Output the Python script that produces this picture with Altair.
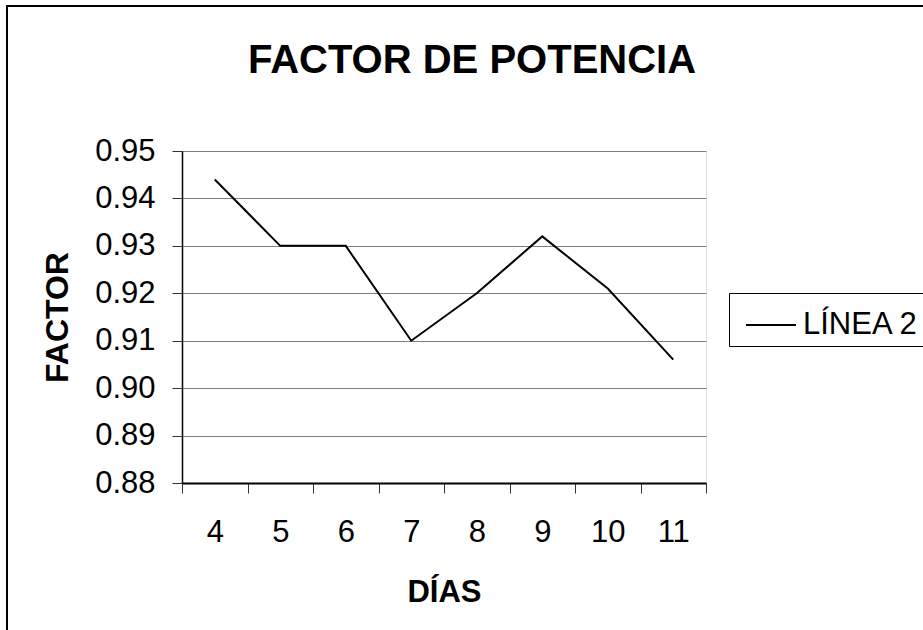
import altair as alt
import pandas as pd

# Power factor readings per day for line 2
dias = [4, 5, 6, 7, 8, 9, 10, 11]
factor = [0.944, 0.930, 0.930, 0.910, 0.920, 0.932, 0.921, 0.906]
serie = "LÍNEA 2"
y_ticks = [0.88, 0.89, 0.90, 0.91, 0.92, 0.93, 0.94, 0.95]

df = pd.DataFrame({"dia": dias, "factor": factor, "serie": [serie] * len(dias)})

FONT = "Liberation Sans"

# Outer chart-area frame
frame = (
    alt.Chart(pd.DataFrame({"k": [0]}))
    .mark_rect(fill=None, stroke="black", strokeWidth=2, clip=False)
    .encode(
        x=alt.value(-175), x2=alt.value(760),
        y=alt.value(-145), y2=alt.value(500),
    )
)

line = (
    alt.Chart(df)
    .mark_line(strokeWidth=2)
    .encode(
        x=alt.X(
            "dia:O",
            bandPosition=0.5,
            scale=alt.Scale(type="band", paddingInner=0, paddingOuter=0),
            axis=alt.Axis(
                title="DÍAS",
                labelAngle=0,
                tickBand="extent",
                tickSize=10,
                tickColor="#333333",
                domainColor="black",
                domainWidth=2,
                labelFontSize=31,
                labelFont=FONT,
                labelColor="black",
                labelPadding=24,
                titleFontSize=31,
                titleFont=FONT,
                titleFontWeight="bold",
                titleColor="black",
                titlePadding=30,
                grid=False,
            ),
        ),
        y=alt.Y(
            "factor:Q",
            scale=alt.Scale(domain=[0.88, 0.95], zero=False, nice=False),
            axis=alt.Axis(
                title="FACTOR",
                values=y_ticks,
                format=".2f",
                tickSize=10,
                tickColor="#333333",
                domainColor="black",
                domainWidth=1.5,
                grid=True,
                gridColor="#808080",
                gridWidth=1,
                labelFontSize=31,
                labelFont=FONT,
                labelColor="black",
                labelPadding=17,
                titleFontSize=32,
                titleFont=FONT,
                titleFontWeight="bold",
                titleColor="black",
                titlePadding=20,
            ),
        ),
        color=alt.Color(
            "serie:N",
            scale=alt.Scale(range=["black"]),
            legend=alt.Legend(
                title=None,
                orient="none",
                legendX=547,
                legendY=142,
                symbolType="stroke",
                symbolSize=2500,
                symbolStrokeWidth=2,
                symbolOffset=10,
                labelFontSize=31,
                labelFont=FONT,
                labelColor="black",
                labelOffset=6,
                padding=6,
                strokeColor="black",
            ),
        ),
    )
)

chart = (
    alt.layer(frame, line)
    .properties(
        width=524,
        height=332,
        padding={"left": 182, "top": 151, "right": 217, "bottom": 147},
        autosize=alt.AutoSizeParams(type="none"),
        title=alt.TitleParams(
            "FACTOR DE POTENCIA",
            font=FONT,
            fontSize=40,
            fontWeight="bold",
            color="black",
            anchor="middle",
            dx=28,
            offset=0,
            dy=76,
        ),
    )
    .configure_view(stroke="#808080", strokeWidth=1)
    .configure(background="white")
)

chart.save("out.html", embed_options={"renderer": "svg", "actions": False})
